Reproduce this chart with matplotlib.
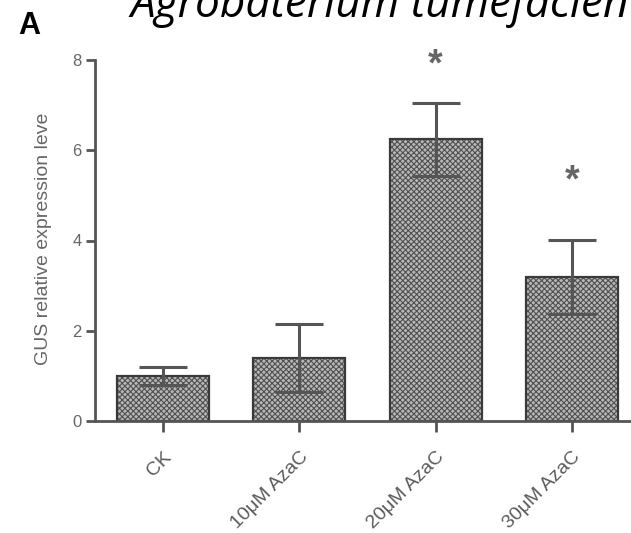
import matplotlib
matplotlib.use("Agg")
import matplotlib.pyplot as plt

categories = ["CK", "10\u03bcM AzaC", "20\u03bcM AzaC", "30\u03bcM AzaC"]
values = [1.00, 1.40, 6.24, 3.19]
errors = [0.20, 0.75, 0.80, 0.82]
star_labels = ["", "", "*", "*"]
star_heights = [0, 0, 7.87, 5.30]
y_ticks = [0, 2, 4, 6, 8]
title_text = "Agrobaterium tumefacien"
panel_label = "A"
y_label = "GUS relative expression leve"

plt.rcParams['hatch.linewidth'] = 0.8
plt.rcParams['font.family'] = ['Liberation Sans', 'DejaVu Sans']

W, H = 631, 533
fig = plt.figure(figsize=(W / 100, H / 100), dpi=100)
fig.patch.set_facecolor("white")

left, bottom_px, top_px = 95, 421, 60
ax = fig.add_axes([left / W, (H - bottom_px) / H, 545 / W, (bottom_px - top_px) / H])

gray = "#555555"
x = list(range(len(categories)))
# hatched fill
ax.bar(x, values, width=0.675, color="#b8b8b8", edgecolor="#505050",
       linewidth=0, hatch="xxxxxx", zorder=2)
# dark outline
ax.bar(x, values, width=0.675, fill=False, edgecolor="#3a3a3a",
       linewidth=1.6, zorder=2.5)
ax.errorbar(x, values, yerr=errors, fmt="none", ecolor=gray, elinewidth=2.2,
            capsize=17, capthick=2.2, zorder=3)

for xi, s, h in zip(x, star_labels, star_heights):
    if s:
        ax.text(xi, h, s, ha="center", va="center", fontsize=27, fontweight="bold",
                color="#666666", clip_on=False, zorder=4)

ax.set_xlim(-0.5, 3.5)
ax.set_ylim(0, 8)
ax.set_yticks(y_ticks)
ax.set_xticks(x)
ax.set_xticklabels(categories, rotation=45, ha="right", rotation_mode="anchor",
                   fontsize=14, color="#5a5a5a")
ax.tick_params(axis="x", length=8, width=2, color=gray, pad=12)
ax.tick_params(axis="y", length=6.5, width=2, color=gray, labelsize=12,
               labelcolor="#666666", pad=3)

for side in ["top", "right"]:
    ax.spines[side].set_visible(False)
for side in ["left", "bottom"]:
    ax.spines[side].set_color(gray)
    ax.spines[side].set_linewidth(2)

ax.set_ylabel(y_label, fontsize=14, color="#666666", va="center")
ax.yaxis.set_label_coords((44 - left) / 545, (bottom_px - 239) / (bottom_px - top_px))

fig.text(18 / W, 1 - 34 / H, panel_label, fontsize=22, fontweight="bold",
         ha="left", va="baseline", color="black")
fig.text(130 / W, 1 - 17 / H, title_text, fontsize=31.8, style="italic",
         family=["Open Sans", "DejaVu Sans"], ha="left", va="baseline", color="black")

fig.savefig("out.png", dpi=100)
